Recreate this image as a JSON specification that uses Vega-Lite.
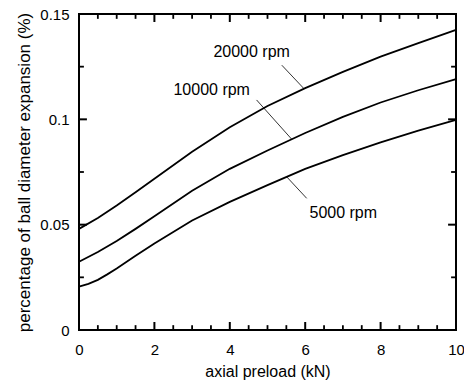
{
  "$schema": "https://vega.github.io/schema/vega-lite/v6.json",
  "width": 377,
  "height": 316,
  "autosize": "none",
  "padding": {"left": 79, "top": 14, "right": 8, "bottom": 51},
  "background": "white",
  "config": {
    "view": {"stroke": "black", "strokeWidth": 2},
    "font": "Liberation Sans",
    "axis": {"grid": false, "domain": false, "ticks": false, "labelColor": "black", "titleColor": "black", "labelFont": "Liberation Sans", "titleFont": "Liberation Sans", "titleFontWeight": "normal", "labelFontSize": 15, "labelFlush": false, "labelOverlap": false}
  },
  "datasets": {
    "curves": [
      {"speed": "20000 rpm", "load": 0, "exp": 0.0480},
      {"speed": "20000 rpm", "load": 0.5, "exp": 0.0532},
      {"speed": "20000 rpm", "load": 1, "exp": 0.0591},
      {"speed": "20000 rpm", "load": 1.5, "exp": 0.0654},
      {"speed": "20000 rpm", "load": 2, "exp": 0.0718},
      {"speed": "20000 rpm", "load": 3, "exp": 0.0846},
      {"speed": "20000 rpm", "load": 4, "exp": 0.0962},
      {"speed": "20000 rpm", "load": 5, "exp": 0.1063},
      {"speed": "20000 rpm", "load": 6, "exp": 0.1148},
      {"speed": "20000 rpm", "load": 7, "exp": 0.1225},
      {"speed": "20000 rpm", "load": 8, "exp": 0.1298},
      {"speed": "20000 rpm", "load": 9, "exp": 0.1362},
      {"speed": "20000 rpm", "load": 10, "exp": 0.1425},
      {"speed": "10000 rpm", "load": 0, "exp": 0.0324},
      {"speed": "10000 rpm", "load": 0.5, "exp": 0.0370},
      {"speed": "10000 rpm", "load": 1, "exp": 0.0422},
      {"speed": "10000 rpm", "load": 1.5, "exp": 0.0480},
      {"speed": "10000 rpm", "load": 2, "exp": 0.0540},
      {"speed": "10000 rpm", "load": 3, "exp": 0.0661},
      {"speed": "10000 rpm", "load": 4, "exp": 0.0765},
      {"speed": "10000 rpm", "load": 5, "exp": 0.0852},
      {"speed": "10000 rpm", "load": 6, "exp": 0.0935},
      {"speed": "10000 rpm", "load": 7, "exp": 0.1012},
      {"speed": "10000 rpm", "load": 8, "exp": 0.1080},
      {"speed": "10000 rpm", "load": 9, "exp": 0.1138},
      {"speed": "10000 rpm", "load": 10, "exp": 0.1191},
      {"speed": "5000 rpm", "load": 0, "exp": 0.0206},
      {"speed": "5000 rpm", "load": 0.25, "exp": 0.0219},
      {"speed": "5000 rpm", "load": 0.5, "exp": 0.0238},
      {"speed": "5000 rpm", "load": 0.75, "exp": 0.0264},
      {"speed": "5000 rpm", "load": 1, "exp": 0.0292},
      {"speed": "5000 rpm", "load": 1.5, "exp": 0.0352},
      {"speed": "5000 rpm", "load": 2, "exp": 0.0411},
      {"speed": "5000 rpm", "load": 3, "exp": 0.0520},
      {"speed": "5000 rpm", "load": 4, "exp": 0.0608},
      {"speed": "5000 rpm", "load": 5, "exp": 0.0688},
      {"speed": "5000 rpm", "load": 6, "exp": 0.0765},
      {"speed": "5000 rpm", "load": 7, "exp": 0.0830},
      {"speed": "5000 rpm", "load": 8, "exp": 0.0891},
      {"speed": "5000 rpm", "load": 9, "exp": 0.0946},
      {"speed": "5000 rpm", "load": 10, "exp": 0.0997}
    ],
    "labels": [
      {"label": "20000 rpm", "tx": 4.58, "ty": 0.132, "x1": 5.38, "y1": 0.1257, "x2": 5.97, "y2": 0.1145},
      {"label": "10000 rpm", "tx": 3.52, "ty": 0.1139, "x1": 4.71, "y1": 0.1092, "x2": 5.64, "y2": 0.0906},
      {"label": "5000 rpm", "tx": 7.01, "ty": 0.0554, "x1": 5.51, "y1": 0.0727, "x2": 6.04, "y2": 0.0625}
    ],
    "xmajor": [{"v": 0}, {"v": 2}, {"v": 4}, {"v": 6}, {"v": 8}, {"v": 10}],
    "xminor": [{"v": 0.5}, {"v": 1}, {"v": 1.5}, {"v": 2.5}, {"v": 3}, {"v": 3.5}, {"v": 4.5}, {"v": 5}, {"v": 5.5}, {"v": 6.5}, {"v": 7}, {"v": 7.5}, {"v": 8.5}, {"v": 9}, {"v": 9.5}],
    "ymajor": [{"v": 0}, {"v": 0.05}, {"v": 0.1}, {"v": 0.15}],
    "yminor": [{"v": 0.025}, {"v": 0.075}, {"v": 0.125}]
  },
  "layer": [
    {
      "data": {"name": "curves"},
      "mark": {"type": "line", "color": "black", "strokeWidth": 1.8},
      "encoding": {
        "x": {"field": "load", "type": "quantitative",
          "scale": {"domain": [0, 10], "nice": false, "zero": false},
          "axis": {"orient": "bottom", "values": [0, 2, 4, 6, 8, 10], "format": "d",
            "labelPadding": 12, "title": "axial preload (kN)", "titleFontSize": 16, "titlePadding": 6}},
        "y": {"field": "exp", "type": "quantitative",
          "scale": {"domain": [0, 0.15], "nice": false, "zero": false},
          "axis": {"orient": "left", "values": [0, 0.05, 0.1, 0.15],
            "labelExpr": "format(datum.value, '.2~f')",
            "labelPadding": 10, "title": "percentage of ball diameter expansion (%)", "titleFontSize": 17, "titlePadding": 6}},
        "detail": {"field": "speed", "type": "nominal"}
      }
    },
    {
      "data": {"name": "labels"},
      "mark": {"type": "rule", "color": "black", "strokeWidth": 0.8},
      "encoding": {
        "x": {"field": "x1", "type": "quantitative"},
        "y": {"field": "y1", "type": "quantitative"},
        "x2": {"field": "x2"},
        "y2": {"field": "y2"}
      }
    },
    {
      "data": {"name": "labels"},
      "mark": {"type": "text", "color": "black", "fontSize": 16, "font": "Liberation Sans", "align": "center", "baseline": "middle"},
      "encoding": {
        "x": {"field": "tx", "type": "quantitative"},
        "y": {"field": "ty", "type": "quantitative"},
        "text": {"field": "label", "type": "nominal"}
      }
    },
    {
      "data": {"name": "xmajor"},
      "mark": {"type": "rule", "color": "black", "strokeWidth": 2},
      "encoding": {"x": {"field": "v", "type": "quantitative"}, "y": {"datum": 0}, "y2": {"datum": 0.0038}}
    },
    {
      "data": {"name": "xmajor"},
      "mark": {"type": "rule", "color": "black", "strokeWidth": 2},
      "encoding": {"x": {"field": "v", "type": "quantitative"}, "y": {"datum": 0.15}, "y2": {"datum": 0.1462}}
    },
    {
      "data": {"name": "xminor"},
      "mark": {"type": "rule", "color": "black", "strokeWidth": 1.8},
      "encoding": {"x": {"field": "v", "type": "quantitative"}, "y": {"datum": 0}, "y2": {"datum": 0.0023}}
    },
    {
      "data": {"name": "xminor"},
      "mark": {"type": "rule", "color": "black", "strokeWidth": 1.8},
      "encoding": {"x": {"field": "v", "type": "quantitative"}, "y": {"datum": 0.15}, "y2": {"datum": 0.1477}}
    },
    {
      "data": {"name": "ymajor"},
      "mark": {"type": "rule", "color": "black", "strokeWidth": 2},
      "encoding": {"y": {"field": "v", "type": "quantitative"}, "x": {"datum": 0}, "x2": {"datum": 0.21}}
    },
    {
      "data": {"name": "ymajor"},
      "mark": {"type": "rule", "color": "black", "strokeWidth": 2},
      "encoding": {"y": {"field": "v", "type": "quantitative"}, "x": {"datum": 10}, "x2": {"datum": 9.79}}
    },
    {
      "data": {"name": "yminor"},
      "mark": {"type": "rule", "color": "black", "strokeWidth": 1.8},
      "encoding": {"y": {"field": "v", "type": "quantitative"}, "x": {"datum": 0}, "x2": {"datum": 0.13}}
    },
    {
      "data": {"name": "yminor"},
      "mark": {"type": "rule", "color": "black", "strokeWidth": 1.8},
      "encoding": {"y": {"field": "v", "type": "quantitative"}, "x": {"datum": 10}, "x2": {"datum": 9.87}}
    }
  ]
}
